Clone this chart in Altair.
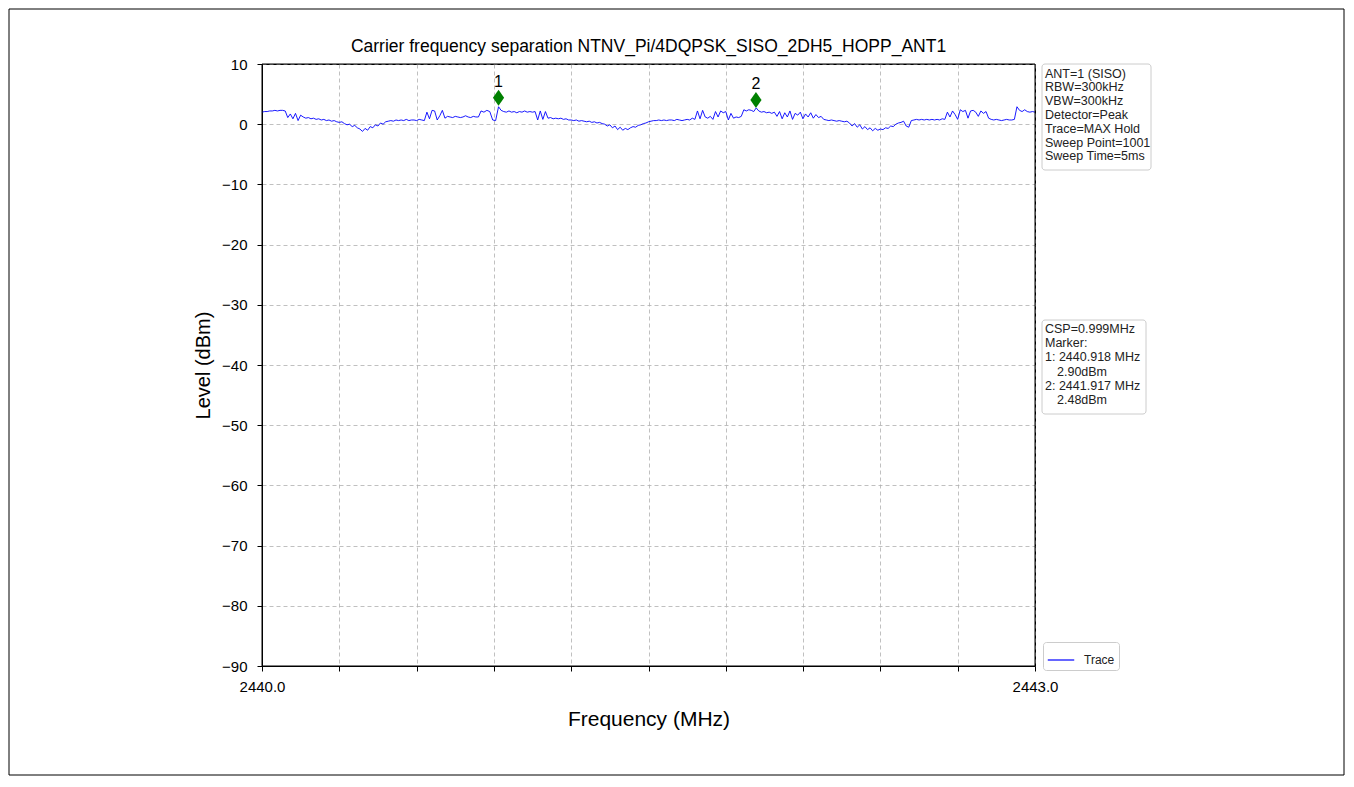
import altair as alt
import numpy as np
import pandas as pd

FONT = "Liberation Sans"

# ---- data -----------------------------------------------------------------
f_start = 2440.0
f_stop = 2443.0

# trace: segment start offsets (MHz from 2440) and the levels (dBm) read in each
seg_starts = [0.00, 0.10, 0.16, 0.30, 0.40, 0.50, 0.64, 0.73, 0.85, 0.918,
              0.928, 1.07, 1.11, 1.20, 1.34, 1.43, 1.51, 1.67, 1.87, 1.918,
              1.928, 2.18, 2.28, 2.42, 2.52, 2.66, 2.83, 2.93]
seg_levels = [
    [2.0, 2.1, 2.1, 2.2, 2.2, 2.3, 2.2, 2.3, 2.3, 2.2],
    [1.1, 1.7, 0.9, 1.8, 0.6, 1.5],
    [1.2, 1.0, 1.1, 0.9, 1.0, 0.8, 0.9, 0.7, 0.8, 0.6, 0.7, 0.5, 0.6, 0.4],
    [0.3, 0.4, 0.1, -0.1, 0.0, -0.4, -0.2, -0.6, -0.8, -1.2],
    [-0.7, -1.0, -0.4, -0.6, -0.1, -0.3, 0.2, 0.0, 0.4, 0.5],
    [0.6, 0.5, 0.7, 0.6, 0.7, 0.6, 0.8, 0.6, 0.7, 0.7, 0.6, 0.8, 0.7, 0.6],
    [2.0, 0.9, 2.3, 2.2, 0.7, 1.4, 2.3, 1.0, 1.3],
    [1.2, 1.1, 1.3, 1.2, 1.1, 1.2, 1.4, 1.2, 1.1, 1.3, 1.2, 1.2],
    [2.2, 2.0, 2.3, 2.1, 0.7, 0.6],
    [2.9],
    [2.3, 2.1, 2.0, 2.2, 2.0, 2.1, 1.9, 2.1, 2.0, 2.2, 2.0, 2.1, 2.0, 2.1],
    [0.7, 2.2, 0.8, 2.1],
    [1.0, 1.1, 0.9, 1.0, 0.9, 1.0, 0.8, 0.9, 0.7],
    [0.7, 0.6, 0.7, 0.5, 0.6, 0.5, 0.4, 0.5, 0.3, 0.4, 0.2, 0.3, 0.1, 0.0],
    [-0.3, -0.1, -0.6, -0.3, -0.9, -0.5, -1.0, -0.7, -0.9],
    [-0.6, -0.4, -0.5, -0.2, -0.1, 0.1, 0.2, 0.4],
    [0.5, 0.6, 0.6, 0.7, 0.6, 0.7, 0.6, 0.7, 0.7, 0.6, 0.8, 0.7, 0.6, 0.7, 0.8, 0.7],
    [1.0, 0.8, 2.2, 0.9, 2.3, 1.2, 1.0, 1.3, 0.8, 2.1, 1.2, 2.2, 1.9, 2.1, 0.7,
     1.8, 1.0, 1.2, 1.1, 1.3],
    [2.4, 2.2, 2.4, 2.3, 2.1],
    [2.7],
    [2.2, 2.0, 2.1, 1.9, 2.0, 1.8, 2.0, 1.3, 2.1, 0.9, 1.9, 1.2, 2.2, 0.8, 1.8,
     1.5, 2.0, 0.9, 1.7, 1.2, 1.9, 1.0, 1.6, 1.1, 1.3],
    [0.8, 0.7, 0.6, 0.7, 0.6, 0.5, 0.6, 0.5, 0.4, 0.5],
    [0.2, -0.3, 0.1, -0.5, -0.1, -0.8, -0.4, -0.9, -0.6, -1.1, -0.7, -1.0, -0.8, -0.9],
    [-0.6, -0.7, -0.3, -0.4, 0.0, 0.2, 0.3, 0.5, -0.3, -0.5],
    [0.6, 0.7, 0.8, 0.7, 0.8, 0.7, 0.8, 0.7, 0.8, 0.7, 0.8, 0.7, 0.9, 0.8],
    [2.0, 1.2, 2.2, 1.6, 0.8, 2.4, 2.1, 2.3, 1.0, 2.2, 2.3, 2.0, 1.3, 2.2, 1.8, 2.1, 1.0],
    [0.8, 0.7, 0.8, 0.7, 0.6, 0.7, 0.8, 0.7, 0.7, 0.8],
    [2.9, 2.3, 2.1, 2.4, 2.1, 2.0, 2.1],
]
end_level = 2.0

# markers
marker_labels = ["1", "2"]
marker_freq = [2440.918, 2441.917]
marker_level = [4.4, 4.0]   # where the diamonds are drawn

x_tick_values = [2440.0, 2440.3, 2440.6, 2440.9, 2441.2, 2441.5, 2441.8,
                 2442.1, 2442.4, 2442.7, 2443.0]
y_tick_values = [10, 0, -10, -20, -30, -40, -50, -60, -70, -80, -90]

info_lines = ["ANT=1 (SISO)", "RBW=300kHz", "VBW=300kHz", "Detector=Peak",
              "Trace=MAX Hold", "Sweep Point=1001", "Sweep Time=5ms"]
marker_lines = ["CSP=0.999MHz", "Marker:", "1: 2440.918 MHz", "2.90dBm",
                "2: 2441.917 MHz", "2.48dBm"]
marker_line_indented = [False, False, False, True, False, True]
title_text = "Carrier frequency separation NTNV_Pi/4DQPSK_SISO_2DH5_HOPP_ANT1"

# ---- build tables ---------------------------------------------------------
freqs, levels = [], []
for i, vals in enumerate(seg_levels):
    s = seg_starts[i]
    e = seg_starts[i + 1] if i + 1 < len(seg_starts) else (f_stop - f_start)
    fs = np.linspace(s, e, len(vals), endpoint=False)
    freqs.extend(f_start + fs)
    levels.extend(vals)
freqs.append(f_stop)
levels.append(end_level)

trace_df = pd.DataFrame({"freq": freqs, "level": levels, "series": "Trace"})
marker_df = pd.DataFrame({"freq": marker_freq, "level": marker_level,
                          "label": marker_labels})
one_row = pd.DataFrame({"k": [0]})

x_scale = alt.Scale(domain=[f_start, f_stop], nice=False, zero=False)
y_scale = alt.Scale(domain=[-90, 10], nice=False, zero=False)

x_axis = alt.Axis(
    title="Frequency (MHz)", values=x_tick_values,
    labelExpr="(abs(datum.value-2440)<0.01 || abs(datum.value-2443)<0.01) ? format(datum.value, '.1f') : ''",
    grid=True, tickSize=5, labelPadding=8, titlePadding=14, titleFontSize=21,
    labelFlush=False, labelOverlap=False,
)
y_axis = alt.Axis(
    title="Level (dBm)", values=y_tick_values, format="d",
    grid=True, tickSize=5, labelPadding=10, titlePadding=8, titleFontSize=20,
)

line = alt.Chart(trace_df).mark_line(strokeWidth=0.9, clip=True).encode(
    x=alt.X("freq:Q", scale=x_scale, axis=x_axis),
    y=alt.Y("level:Q", scale=y_scale, axis=y_axis),
    color=alt.Color("series:N", scale=alt.Scale(domain=["Trace"], range=["#0000ff"]),
                    legend=alt.Legend(title=None, orient="none", legendX=781, legendY=578,
                                      symbolType="stroke", symbolStrokeWidth=1.2,
                                      symbolSize=700, labelFontSize=12, labelFont=FONT,
                                      labelColor="#222222",
                                      strokeColor="#cccccc", cornerRadius=3, padding=4,
                                      fillColor="white", labelOffset=9)),
)

diamonds = alt.Chart(marker_df).mark_point(
    shape="M0,-1L0.7,0L0,1L-0.7,0Z", size=256, filled=True,
    color="#008000", opacity=1,
).encode(x=alt.X("freq:Q", scale=x_scale), y=alt.Y("level:Q", scale=y_scale))

marker_text = alt.Chart(marker_df).mark_text(
    dy=-16, fontSize=16, font=FONT, color="black", baseline="middle",
).encode(x=alt.X("freq:Q", scale=x_scale), y=alt.Y("level:Q", scale=y_scale),
         text="label:N")

# text boxes on the right
box1 = alt.Chart(one_row).mark_rect(
    fill="white", stroke="#cccccc", strokeWidth=1, cornerRadius=3,
).encode(x=alt.value(780), x2=alt.value(889), y=alt.value(0), y2=alt.value(106))
texts1 = [
    alt.Chart(one_row).mark_text(
        align="left", baseline="middle", fontSize=12.5, font=FONT, color="#222222",
    ).encode(x=alt.value(783), y=alt.value(9.5 + 13.8 * k), text=alt.value(t))
    for k, t in enumerate(info_lines)
]

box2 = alt.Chart(one_row).mark_rect(
    fill="white", stroke="#cccccc", strokeWidth=1, cornerRadius=3,
).encode(x=alt.value(780), x2=alt.value(884), y=alt.value(256), y2=alt.value(350))
texts2 = [
    alt.Chart(one_row).mark_text(
        align="left", baseline="middle", fontSize=12.5, font=FONT, color="#222222",
    ).encode(x=alt.value(795 if ind else 783), y=alt.value(265 + 14.2 * k),
             text=alt.value(t))
    for k, (t, ind) in enumerate(zip(marker_lines, marker_line_indented))
]

title_mark = alt.Chart(one_row).mark_text(
    align="center", baseline="middle", fontSize=17.5, font=FONT, color="black",
).encode(x=alt.value(386.5), y=alt.value(-17), text=alt.value(title_text))

plot_border = alt.Chart(one_row).mark_rect(
    fillOpacity=0, stroke="black", strokeWidth=1,
).encode(x=alt.value(0), x2=alt.value(773), y=alt.value(0), y2=alt.value(602))

frame = alt.Chart(one_row).mark_rect(
    fillOpacity=0, stroke="black", strokeWidth=1,
).encode(x=alt.value(-253), x2=alt.value(1082), y=alt.value(-55), y2=alt.value(711))

chart = alt.layer(
    frame, line, plot_border, diamonds, marker_text, box1, *texts1, box2, *texts2,
    title_mark,
).properties(
    width=773, height=602,
    autosize=alt.AutoSizeParams(type="none"),
    padding={"left": 254, "top": 56, "right": 311, "bottom": 112},
    background="white",
).configure_view(
    stroke="black", strokeWidth=1,
).configure_axis(
    domainColor="black", tickColor="black", labelColor="black", titleColor="black",
    labelFont=FONT, titleFont=FONT, labelFontSize=15,
    titleFontWeight="normal", gridColor="#b0b0b0", gridDash=[4, 3], gridWidth=0.8,
    domainWidth=1, tickWidth=1,
)

chart.save("out.html", embed_options={"renderer": "svg", "actions": False})
